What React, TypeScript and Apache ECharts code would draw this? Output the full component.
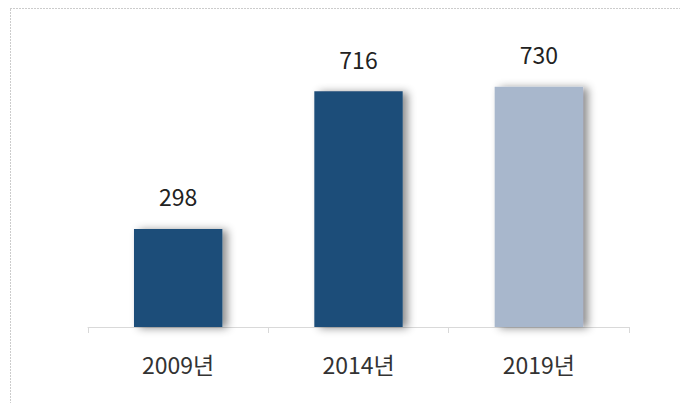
import React, { useEffect, useRef } from "react";
import * as echarts from "echarts";

const categories = ["2009년", "2014년", "2019년"];
const values = [298, 716, 730];
const barColors = ["#1F4E79", "#1F4E79", "#A8B7CC"];

export default function App() {
  const ref = useRef<HTMLDivElement>(null);
  useEffect(() => {
    document.body.style.margin = "0";
    const chart = echarts.init(ref.current!, null, { renderer: "svg" });
    chart.setOption({
      animation: false,
      grid: { left: 88, right: 51, top: 40, bottom: 76 },
      xAxis: {
        type: "category",
        data: categories,
        axisLine: { show: true, lineStyle: { color: "#d9d9d9", width: 1 } },
        axisTick: { show: true, length: 6, lineStyle: { color: "#d9d9d9" } },
        axisLabel: {
          color: "#333",
          fontSize: 23,
          fontFamily: "Noto Sans CJK KR",
          margin: 25,
        },
      },
      yAxis: {
        type: "value",
        min: 0,
        max: 872,
        show: false,
        splitLine: { show: false },
      },
      series: [
        {
          type: "bar",
          barWidth: "49%",
          data: values.map((v, i) => ({
            value: v,
            itemStyle: { color: barColors[i] },
          })),
          itemStyle: {
            shadowColor: "rgba(0,0,0,0.45)",
            shadowBlur: 8,
            shadowOffsetX: 5,
            shadowOffsetY: 1,
          },
          label: {
            show: true,
            position: "top",
            distance: 21,
            color: "#222",
            fontSize: 23,
            fontFamily: "Noto Sans CJK KR",
          },
        },
      ],
      graphic: [
        {
          type: "rect",
          shape: { x: 10.5, y: 8.5, width: 700, height: 420 },
          style: { fill: "none", stroke: "#999", lineWidth: 1, lineDash: [1, 2] },
          silent: true,
        },
      ],
    });
    return () => chart.dispose();
  }, []);
  return <div ref={ref} style={{ width: 680, height: 403 }} />;
}
